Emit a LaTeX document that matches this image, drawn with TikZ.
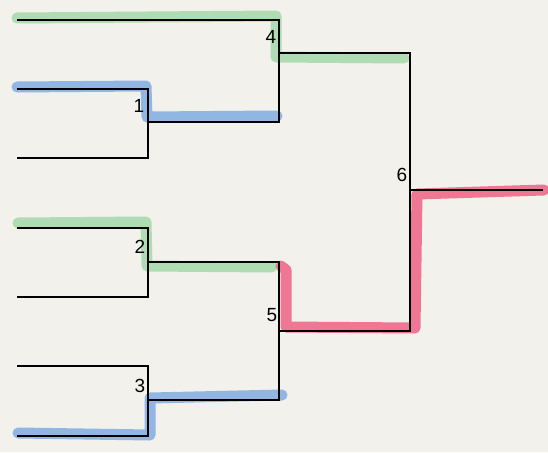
\documentclass[tikz,border=0pt]{standalone}
\usepackage{fontspec}
\setmainfont{Liberation Sans}
\definecolor{paper}{RGB}{242,241,236}
\definecolor{hgreen}{RGB}{168,218,172}
\definecolor{hblue}{RGB}{136,176,228}
\definecolor{hred}{RGB}{238,106,138}
\begin{document}
\begin{tikzpicture}[x=1pt,y=-1pt,
  bracket/.style={draw=black,line width=2.2pt,line join=miter},
  hlgreen/.style={draw=hgreen,line width=11pt,line cap=round,line join=round,opacity=0.9},
  hlblue/.style={draw=hblue,line width=11pt,line cap=round,line join=round,opacity=0.9},
  hlred/.style={draw=hred,line width=11pt,line cap=round,line join=round,opacity=0.9},
  num/.style={font=\fontsize{19}{19}\selectfont,inner sep=0pt}]
\fill[paper] (0,0) rectangle (548,452);
\useasboundingbox (0,0) rectangle (548,452);
% coordinates
\coordinate (s1) at (17,20);
\coordinate (s2) at (17,89);
\coordinate (s3) at (17,158);
\coordinate (s4) at (17,228);
\coordinate (s5) at (17,297);
\coordinate (s6) at (17,366);
\coordinate (s7) at (17,436);
\coordinate (m1t) at (148,89);
\coordinate (m1b) at (148,158);
\coordinate (m1o) at (148,122);
\coordinate (m2t) at (148,228);
\coordinate (m2b) at (148,297);
\coordinate (m2o) at (148,262);
\coordinate (m3t) at (148,366);
\coordinate (m3b) at (148,436);
\coordinate (m3o) at (148,400);
\coordinate (m4t) at (279,20);
\coordinate (m4b) at (279,122);
\coordinate (m4o) at (279,53);
\coordinate (m5t) at (279,262);
\coordinate (m5b) at (279,400);
\coordinate (m5o) at (279,331);
\coordinate (m6t) at (410,53);
\coordinate (m6b) at (410,331);
\coordinate (m6o) at (410,190);
\coordinate (win) at (543,190);
% highlights
\draw[hlgreen] (17,18) -- (276,16) -- (276,57) -- (404,58);
\draw[hlblue] (17,87) -- (146,86) -- (147,117) -- (277,116);
\draw[hlgreen] (18,223) -- (146,222) -- (147,266) -- (272,267);
\draw[hlblue] (18,433) -- (150,435) -- (150,398) -- (282,395);
\draw[hlred] (281,266) -- (286,270) -- (286,327) -- (415,328) -- (417,194) -- (544,190);
% bracket lines
\draw[bracket] (s1) -- (m4t) -- (m4b) -- (m1o);
\draw[bracket] (s2) -- (m1t) -- (m1b) -- (s3);
\draw[bracket] (s4) -- (m2t) -- (m2b) -- (s5);
\draw[bracket] (s6) -- (m3t) -- (m3b) -- (s7);
\draw[bracket] (m2o) -- (m5t) -- (m5b) -- (m3o);
\draw[bracket] (m4o) -- (m6t) -- (m6b) -- (m5o);
\draw[bracket] (m6o) -- (win);
% labels
\node[num] (l1) at (139,106) {1};
\node[num] (l2) at (140,247) {2};
\node[num] (l3) at (140,386) {3};
\node[num] (l4) at (271,37) {4};
\node[num] (l5) at (272,315) {5};
\node[num] (l6) at (402,175) {6};
\end{tikzpicture}
\end{document}
